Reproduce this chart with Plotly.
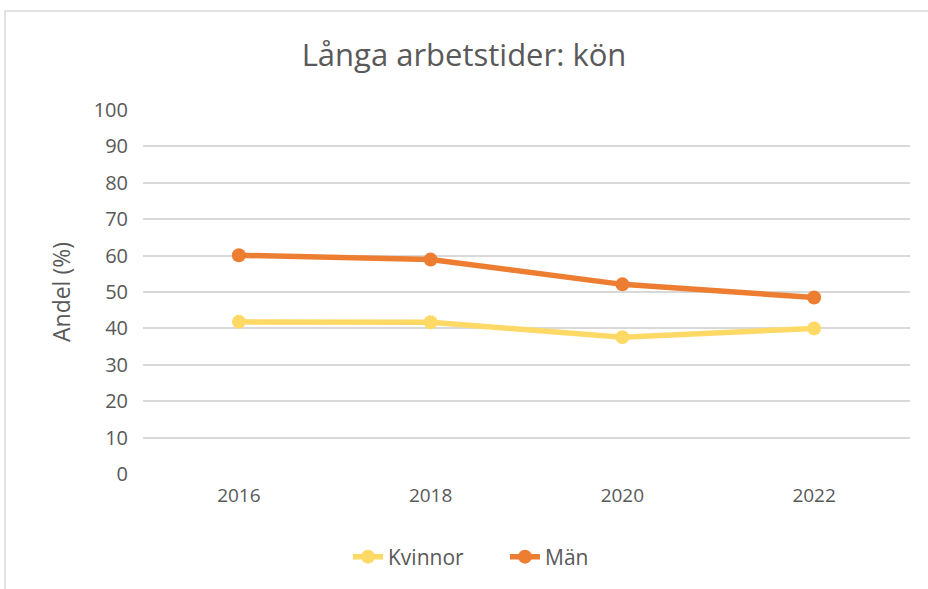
import plotly.graph_objects as go

years = ["2016", "2018", "2020", "2022"]
kvinnor = [41.8, 41.7, 37.6, 40.0]
man = [60.1, 58.9, 52.1, 48.5]
y_ticks = [0, 10, 20, 30, 40, 50, 60, 70, 80, 90, 100]

W, H = 928, 589
L, R, T, B = 143, 18, 110, 115
pw, ph = W - L - R, H - T - B

def px(x):
    return (x - L) / pw

def py(y):
    return (H - B - y) / ph

fig = go.Figure()
fig.add_trace(go.Scatter(x=years, y=kvinnor, name="Kvinnor", mode="lines+markers",
                         line=dict(color="#FFD966", width=5.5),
                         marker=dict(size=14, color="#FFD966")))
fig.add_trace(go.Scatter(x=years, y=man, name="Män", mode="lines+markers",
                         line=dict(color="#ED7D31", width=5.5),
                         marker=dict(size=14, color="#ED7D31")))

fig.update_layout(
    width=W, height=H,
    margin=dict(l=L, r=R, t=T, b=B),
    paper_bgcolor="white", plot_bgcolor="white",
    font=dict(family="Open Sans", color="#595959"),
    title=dict(text="Långa arbetstider: kön", x=0.5, xanchor="center",
               y=1 - 55 / H, yanchor="middle",
               font=dict(size=31, color="#595959")),
    xaxis=dict(type="category", range=[-0.5, 3.5], showgrid=False,
               showline=False, ticks="", ticklabelstandoff=8,
               tickfont=dict(size=19, color="#595959")),
    yaxis=dict(range=[0, 100], tickvals=y_ticks, showgrid=True,
               gridcolor="#D9D9D9", gridwidth=1.5, zeroline=False,
               ticks="", ticklabelstandoff=14,
               tickfont=dict(size=20, color="#595959"),
               title=dict(text="Andel (%)", font=dict(size=23, color="#595959"),
                          standoff=16)),
    legend=dict(orientation="h", x=px(348), xanchor="left", y=py(557), yanchor="middle",
                font=dict(size=21, color="#595959"), entrywidth=112,
                entrywidthmode="pixels"),
    showlegend=True,
    shapes=[dict(type="rect", xref="paper", yref="paper",
                 x0=px(5), x1=px(940), y0=py(11), y1=py(600),
                 line=dict(color="#D9D9D9", width=1.5), layer="below")],
)

fig.write_html("out.html", post_script="document.body.style.margin='0';",
               config={"displayModeBar": False})
